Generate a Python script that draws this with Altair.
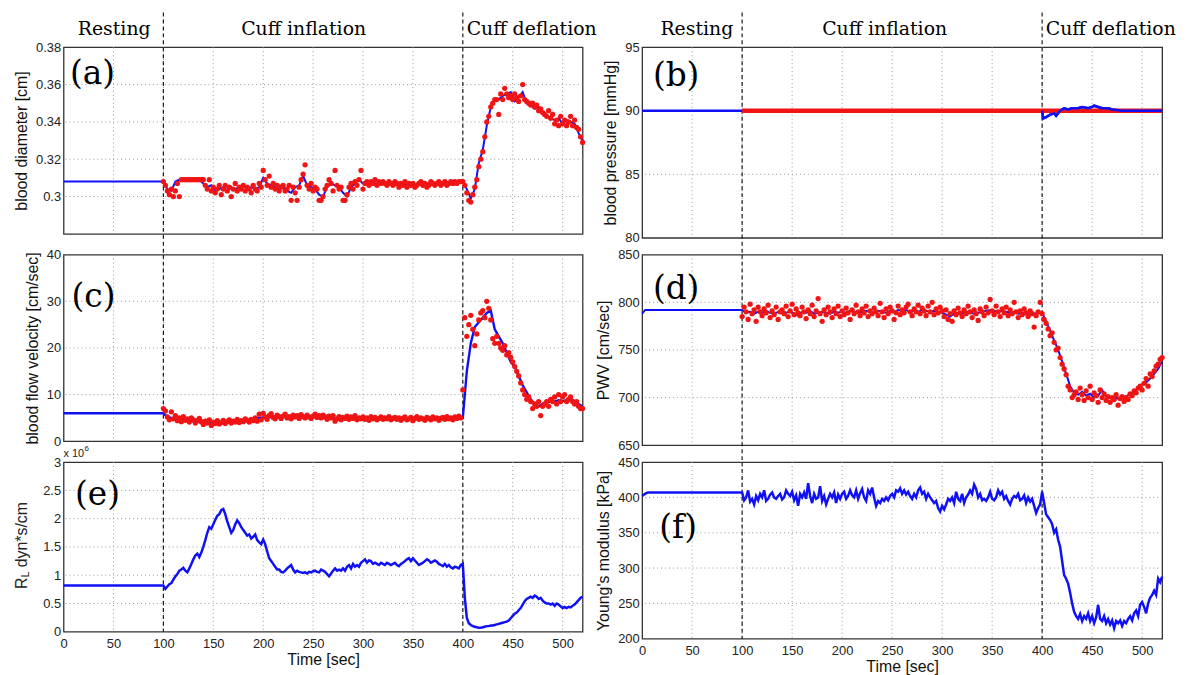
import altair as alt
import pandas as pd

# ---------------- data ----------------
PHASE_T = [100, 400]
PHASES = ["Resting", "Cuff inflation", "Cuff deflation"]
XTICKS = [0, 50, 100, 150, 200, 250, 300, 350, 400, 450, 500]

T_RED = list(range(100, 521, 2))
T_B4 = [0] + list(range(100, 521, 4))
T_D = [0, 3] + list(range(100, 521, 4))
T_E = [0] + list(range(100, 521, 2))
T_F = [0, 2, 4, 6] + list(range(100, 521, 2))
T_B = [0, 100, 400, 401, 404, 408, 412, 414, 418, 422, 426, 430, 436, 440, 446,
       450, 452, 456, 460, 466, 470, 480, 490, 500, 510, 520]
T_RED_B = [100, 520]

# (a) blood diameter [cm]
BLUE_A = [0.308,
          0.308, 0.304, 0.303, 0.308, 0.309, 0.309, 0.309, 0.309, 0.309, 0.309,
          0.307, 0.305, 0.306, 0.303, 0.304, 0.305, 0.303, 0.305, 0.304, 0.305,
          0.306, 0.304, 0.305, 0.304, 0.305, 0.310, 0.307, 0.306, 0.305, 0.304,
          0.305, 0.303, 0.302, 0.305, 0.306, 0.311, 0.306, 0.305, 0.304, 0.301,
          0.300, 0.305, 0.307, 0.306, 0.305, 0.302, 0.300, 0.305, 0.307, 0.309,
          0.307, 0.307, 0.308, 0.307, 0.307, 0.307, 0.307, 0.307, 0.306, 0.307,
          0.307, 0.306, 0.306, 0.306, 0.307, 0.306, 0.307, 0.307, 0.307, 0.307,
          0.307, 0.307, 0.308, 0.308, 0.308, 0.308,
          0.304, 0.299, 0.304, 0.318, 0.325, 0.338, 0.348, 0.352, 0.352, 0.354,
          0.355, 0.356, 0.351, 0.353, 0.356, 0.350, 0.349, 0.347, 0.348, 0.345,
          0.343, 0.342, 0.341, 0.342, 0.339, 0.341, 0.340, 0.339, 0.334, 0.330]
RED_A = [0.308, 0.306, 0.303, 0.301, 0.304, 0.300, 0.303, 0.307, 0.300, 0.309,
         0.309, 0.309, 0.309, 0.309, 0.309, 0.309, 0.309, 0.309, 0.309, 0.309,
         0.309, 0.306, 0.304, 0.309, 0.303, 0.305, 0.302, 0.304, 0.306, 0.301,
         0.304, 0.306, 0.303, 0.305, 0.300, 0.304, 0.307, 0.303, 0.305, 0.304,
         0.306, 0.303, 0.305, 0.304, 0.302, 0.306, 0.304, 0.303, 0.307, 0.305,
         0.314, 0.309, 0.306, 0.311, 0.305, 0.307, 0.304, 0.306, 0.303, 0.305,
         0.306, 0.303, 0.304, 0.306, 0.298, 0.305, 0.302, 0.298, 0.305, 0.309,
         0.312, 0.317, 0.306, 0.304, 0.307, 0.303, 0.305, 0.304, 0.298, 0.298,
         0.300, 0.304, 0.306, 0.309, 0.307, 0.303, 0.314, 0.306, 0.304, 0.305,
         0.298, 0.298, 0.301, 0.305, 0.307, 0.304, 0.308, 0.306, 0.309, 0.314,
         0.304, 0.307, 0.308, 0.306, 0.308, 0.307, 0.309, 0.306, 0.308, 0.307,
         0.308, 0.307, 0.306, 0.308, 0.307, 0.306, 0.308, 0.307, 0.305, 0.307,
         0.306, 0.308, 0.305, 0.307, 0.306, 0.307, 0.305, 0.306, 0.307, 0.308,
         0.306, 0.307, 0.305, 0.306, 0.308, 0.307, 0.306, 0.307, 0.308, 0.306,
         0.307, 0.308, 0.306, 0.307, 0.308, 0.307, 0.308, 0.307, 0.308, 0.308,
         0.308, 0.306, 0.302, 0.298, 0.297, 0.301, 0.305, 0.309, 0.316, 0.320,
         0.324, 0.332, 0.340, 0.343, 0.348, 0.350, 0.352, 0.352, 0.344, 0.355,
         0.352, 0.358, 0.355, 0.353, 0.354, 0.352, 0.355, 0.353, 0.351, 0.354,
         0.360, 0.352, 0.351, 0.350, 0.349, 0.350, 0.348, 0.349, 0.346, 0.347,
         0.345, 0.344, 0.343, 0.346, 0.342, 0.344, 0.339, 0.341, 0.338, 0.343,
         0.339, 0.341, 0.338, 0.340, 0.343, 0.338, 0.341, 0.337, 0.336, 0.332,
         0.329]

# (b) blood pressure [mmHg]
BLUE_B = [90.0, 90.0, 90.0, 89.4, 89.5, 89.7, 89.8, 89.6, 90.0, 90.2, 90.1, 90.2, 90.2,
          90.3, 90.2, 90.3, 90.4, 90.3, 90.2, 90.2, 90.1, 90.0, 90.0, 90.0, 90.0, 90.0]
RED_B = [90.0, 90.0]

# (c) blood flow velocity [cm/sec]
BLUE_C = [6.0,
          6.0, 5.2, 5.0, 4.8, 4.6, 4.5, 4.4, 4.3, 4.2, 4.1,
          4.0, 4.0, 4.0, 4.0, 4.1, 4.1, 4.2, 4.3, 4.3, 4.4,
          4.5, 4.5, 4.6, 4.8, 5.0, 5.1, 5.2, 5.2, 5.3, 5.3,
          5.3, 5.3, 5.3, 5.2, 5.2, 5.2, 5.3, 5.2, 5.2, 5.2,
          5.1, 5.0, 4.9, 4.8, 4.8, 4.9, 4.9, 4.9, 4.9, 4.9,
          4.9, 4.8, 4.8, 4.8, 4.8, 4.8, 4.8, 4.8, 4.8, 4.8,
          4.8, 4.8, 4.8, 4.8, 4.8, 4.8, 4.8, 4.8, 4.8, 4.8,
          4.9, 4.9, 4.9, 4.9, 5.0, 5.0,
          15.0, 21.0, 24.5, 25.5, 26.5, 27.5, 28.0, 24.0, 22.5, 21.0,
          19.0, 17.0, 16.0, 14.0, 12.0, 10.5, 9.0, 8.0, 7.5, 8.0,
          8.3, 8.5, 8.5, 8.8, 8.6, 8.8, 9.0, 8.6, 8.0, 7.5]
RED_C = [7.0, 6.5, 5.2, 4.6, 6.3, 4.8, 5.5, 4.4, 5.0, 4.2,
         5.3, 4.5, 4.8, 4.1, 5.0, 4.6, 3.9, 4.4, 4.9, 4.2,
         3.6, 4.3, 3.9, 4.6, 3.4, 4.1, 3.8, 4.4, 3.7, 4.0,
         4.5, 3.8, 4.2, 4.6, 3.9, 4.3, 4.1, 4.7, 4.0, 4.4,
         4.2, 4.8, 4.5, 4.1, 4.7, 4.4, 5.0, 4.3, 5.8, 4.6,
         6.0, 5.2, 4.7, 5.5, 5.9, 5.1, 4.8, 5.6, 5.3, 4.9,
         5.4, 5.8, 5.0, 5.3, 4.8, 5.6, 5.2, 5.5, 4.9, 5.7,
         5.3, 5.0, 5.6, 5.2, 4.9, 5.4, 5.8, 5.1, 5.5, 5.0,
         5.6, 5.2, 4.7, 5.4, 5.0, 5.5, 4.3, 4.8, 5.3, 4.6,
         5.1, 4.9, 5.4, 4.7, 5.2, 4.9, 5.5, 4.6, 5.0, 4.8,
         5.2, 4.7, 5.0, 4.5, 5.3, 4.8, 5.1, 4.6, 4.9, 5.2,
         4.7, 5.0, 4.8, 5.3, 4.6, 4.9, 5.1, 4.7, 5.0, 4.5,
         4.9, 5.2, 4.6, 4.8, 5.1, 4.4, 4.9, 5.3, 4.7, 5.0,
         4.8, 4.5, 5.1, 4.9, 4.6, 5.2, 4.8, 5.0, 4.5, 4.9,
         5.1, 4.7, 5.3, 4.8, 5.0, 4.6, 5.2, 4.9, 5.4, 5.0,
         11.0, 26.5, 22.5, 25.0, 27.0, 24.0, 20.5, 23.0, 26.0, 27.5,
         28.0, 26.5, 30.0, 28.5, 26.0, 22.0, 21.0, 22.5, 21.0, 20.0,
         19.5, 20.5, 18.5, 19.0, 18.0, 17.0, 16.0, 15.0, 14.0, 12.5,
         11.0, 10.0, 9.0, 9.5, 8.5, 7.0, 8.0, 7.5, 8.5, 5.5,
         7.5, 8.0, 8.5, 7.5, 9.0, 8.5, 9.5, 8.0, 10.0, 8.5,
         9.5, 10.0, 8.5, 9.0, 9.5, 8.5, 8.0, 8.5, 7.5, 7.0,
         7.0]

# (d) PWV [cm/sec]
BLUE_D = [788, 792,
          792, 789, 790, 788, 790, 789, 791, 789, 788, 790,
          791, 789, 790, 788, 786, 790, 789, 791, 788, 789,
          790, 789, 788, 790, 789, 790, 789, 791, 790, 789,
          790, 791, 790, 789, 791, 790, 789, 791, 790, 792,
          791, 792, 790, 791, 790, 792, 791, 790, 791, 790,
          789, 787, 785, 788, 789, 788, 790, 789, 788, 789,
          790, 791, 792, 791, 790, 791, 790, 789, 790, 788,
          789, 788, 787, 788, 789, 789,
          780, 770, 760, 750, 738, 725, 712, 705, 703, 706,
          702, 704, 700, 702, 708, 701, 700, 700, 699, 700,
          701, 704, 706, 710, 714, 716, 720, 725, 730, 738]
RED_D = [785, 795, 790, 782, 798, 788, 792, 780, 795, 790,
         786, 793, 789, 797, 784, 791, 787, 795, 782, 790,
         792, 788, 796, 785, 791, 798, 787, 793, 789, 786,
         795, 790, 783, 792, 788, 797, 785, 791, 804, 788,
         780, 792, 787, 795, 790, 784, 793, 788, 796, 785,
         791, 787, 794, 789, 782, 792, 788, 797, 790, 786,
         793, 789, 796, 785, 791, 788, 794, 790, 786, 799,
         790, 784, 793, 788, 795, 791, 782, 789, 796, 787,
         792, 789, 795, 798, 790, 786, 793, 790, 797, 788,
         794, 791, 786, 796, 790, 800, 787, 793, 789, 795,
         791, 785, 792, 782, 788, 780, 791, 787, 794, 789,
         785, 792, 788, 796, 790, 784, 792, 788, 781, 793,
         790, 786, 795, 789, 803, 791, 787, 796, 790, 785,
         793, 789, 795, 786, 792, 788, 800, 790, 784, 791,
         787, 793, 789, 785, 791, 788, 774, 786, 790, 800,
         788, 782, 778, 772, 765, 768, 758, 750, 752, 742,
         735, 730, 724, 712, 708, 700, 703, 706, 698, 710,
         703, 697, 707, 700, 712, 698, 705, 702, 695, 708,
         700, 704, 697, 701, 695, 700, 698, 703, 692, 699,
         701, 696, 700, 698, 704, 702, 707, 705, 710, 712,
         708, 715, 720, 712, 725, 722, 728, 733, 735, 740,
         742]

# (e) R_L [x 10^6 dyn*s/cm]
BLUE_E = [0.82,
          0.82, 0.76, 0.80, 0.84, 0.86, 0.92, 0.98, 1.02, 1.08, 1.10,
          1.13, 1.08, 1.05, 1.12, 1.20, 1.28, 1.35, 1.38, 1.32, 1.40,
          1.50, 1.62, 1.75, 1.85, 1.82, 1.90, 1.98, 2.05, 2.08, 2.15,
          2.17, 2.08, 1.95, 1.85, 1.75, 1.80, 1.90, 1.97, 1.92, 1.85,
          1.80, 1.75, 1.70, 1.72, 1.65, 1.68, 1.72, 1.62, 1.58, 1.55,
          1.63, 1.55, 1.42, 1.30, 1.25, 1.20, 1.15, 1.10, 1.10, 1.06,
          1.05, 1.08, 1.12, 1.15, 1.18, 1.10, 1.05, 1.08, 1.06, 1.05,
          1.04, 1.05, 1.03, 1.06, 1.05, 1.07, 1.08, 1.06, 1.05, 1.10,
          1.08, 1.06, 1.02, 0.98, 1.03, 1.08, 1.12, 1.08, 1.10, 1.08,
          1.12, 1.08, 1.15, 1.18, 1.12, 1.20, 1.15, 1.18, 1.15, 1.22,
          1.25, 1.28, 1.22, 1.26, 1.25, 1.20, 1.22, 1.20, 1.18, 1.22,
          1.20, 1.18, 1.22, 1.20, 1.18, 1.20, 1.22, 1.18, 1.16, 1.20,
          1.22, 1.25, 1.28, 1.30, 1.25, 1.30, 1.26, 1.22, 1.18, 1.20,
          1.22, 1.25, 1.28, 1.26, 1.22, 1.24, 1.26, 1.24, 1.20, 1.18,
          1.16, 1.20, 1.15, 1.18, 1.14, 1.12, 1.15, 1.14, 1.12, 1.18,
          1.20, 0.60, 0.25, 0.15, 0.12, 0.10, 0.09, 0.08, 0.07, 0.07,
          0.08, 0.09, 0.10, 0.10, 0.11, 0.11, 0.12, 0.13, 0.14, 0.15,
          0.16, 0.17, 0.18, 0.20, 0.24, 0.28, 0.32, 0.34, 0.38, 0.42,
          0.48, 0.54, 0.58, 0.60, 0.62, 0.60, 0.64, 0.62, 0.58, 0.60,
          0.55, 0.52, 0.50, 0.50, 0.48, 0.50, 0.46, 0.50, 0.48, 0.45,
          0.42, 0.44, 0.42, 0.44, 0.43, 0.46, 0.48, 0.52, 0.56, 0.60,
          0.62]

# (f) Young's modulus [kPa]
BLUE_F = [402, 404, 406, 407,
          407, 396, 400, 410, 394, 398, 390, 402, 396, 405,
          400, 410, 395, 398, 404, 407, 400, 398, 402, 405,
          397, 400, 410, 405, 402, 408, 396, 403, 388, 405,
          400, 407, 398, 420, 402, 392, 405, 398, 400, 416,
          395, 402, 390, 398, 405, 400, 407, 392, 404, 398,
          405, 408, 398, 402, 410, 403, 400, 410, 398, 406,
          412, 400, 395, 410, 405, 414, 400, 388, 395, 392,
          398, 395, 400, 396, 402, 405, 400, 410, 408, 413,
          405, 410, 404, 408, 402, 398, 405, 400, 410, 414,
          405, 408, 398, 405, 400, 396, 392, 395, 385, 380,
          388, 383, 390, 398, 395, 400, 392, 408, 398, 395,
          405, 392, 400, 404, 410, 405, 418, 412, 400, 405,
          396, 398, 395, 400, 408, 398, 396, 400, 410, 404,
          408, 398, 402, 395, 390, 398, 402, 400, 405, 396,
          398, 403, 392, 400, 394, 398, 388, 378, 385, 390,
          408, 392, 376, 372, 368, 362, 350, 355, 340, 330,
          310, 290, 285, 278, 265, 250, 238, 232, 228, 235,
          225, 232, 228, 236, 225, 232, 222, 230, 248, 228,
          225, 232, 222, 228, 220, 226, 215, 225, 222, 226,
          218, 225, 222, 228, 232, 226, 236, 240, 232, 248,
          252, 245, 236, 250, 258, 262, 268, 262, 285, 280,
          288]


def frame(name, t, v):
    if len(t) != len(v):
        raise ValueError(f"{name}: {len(t)} times vs {len(v)} values")
    return pd.DataFrame({"t": t, "v": v})


DF = {
    "blue_a": frame("blue_a", T_B4, BLUE_A), "red_a": frame("red_a", T_RED, RED_A),
    "blue_b": frame("blue_b", T_B, BLUE_B), "red_b": frame("red_b", T_RED_B, RED_B),
    "blue_c": frame("blue_c", T_B4, BLUE_C), "red_c": frame("red_c", T_RED, RED_C),
    "blue_d": frame("blue_d", T_D, BLUE_D), "red_d": frame("red_d", T_RED, RED_D),
    "blue_e": frame("blue_e", T_E, BLUE_E),
    "blue_f": frame("blue_f", T_F, BLUE_F),
}

# ---------------- styling ----------------
BLUE = "#1010f5"
RED = "#f01414"
GRID = "#9a9a9a"
SERIF = "DejaVu Serif"
SANS = "Liberation Sans"
XS = alt.Scale(domain=[0, 520], nice=False, zero=False)


def panel(blue, red, red_kind, ydom, yvals, yfmt, ytitle, w, h, lab, lab_t, lab_v,
          rule_y, rule_y2, bottom=False, header_t=None, blue_w=2.0, extra=()):
    ys = alt.Scale(domain=ydom, nice=False, zero=False)
    xaxis = alt.Axis(values=XTICKS, labels=bottom, title="Time [sec]" if bottom else None,
                     grid=False, ticks=False, domain=False, labelFlush=False,
                     labelOverlap=False, labelPadding=6, titlePadding=1)
    yaxis = alt.Axis(values=yvals, format=yfmt, title=ytitle, grid=False, ticks=False,
                     domain=False, labelPadding=3, titlePadding=6, labelOverlap=False)
    # every layer carries the very same axis definitions
    X = lambda: alt.X("t:Q", scale=XS, axis=xaxis)
    Y = lambda: alt.Y("v:Q", scale=ys, axis=yaxis)

    xg = [t for t in XTICKS if 0 < t < 520]
    yg = [v for v in yvals if ydom[0] < v < ydom[1]]
    layers = [
        alt.Chart(pd.DataFrame({"t": xg})).mark_rule(
            color=GRID, strokeDash=[1, 3], strokeWidth=1
        ).encode(x=X()),
        alt.Chart(pd.DataFrame({"v": yg})).mark_rule(
            color=GRID, strokeDash=[1, 3], strokeWidth=1
        ).encode(y=Y()),
        alt.Chart(pd.DataFrame({"t": PHASE_T})).mark_rule(
            color="#1a1a1a", strokeDash=[4, 3], strokeWidth=1.2
        ).encode(x=X(), y=alt.value(rule_y), y2=alt.value(rule_y2)),
        alt.Chart(blue).mark_line(color=BLUE, strokeWidth=blue_w).encode(x=X(), y=Y()),
    ]
    if red is not None:
        if red_kind == "points":
            layers.append(
                alt.Chart(red).mark_circle(color=RED, size=28, opacity=1).encode(
                    x=X(), y=Y())
            )
        else:
            layers.append(
                alt.Chart(red).mark_line(color=RED, strokeWidth=4.5).encode(x=X(), y=Y())
            )
            # blue drawn again above the red line where it departs from it
            layers.append(
                alt.Chart(blue[blue["t"] >= 400]).mark_line(
                    color=BLUE, strokeWidth=blue_w).encode(x=X(), y=Y())
            )
    layers.append(
        alt.Chart(pd.DataFrame({"t": [lab_t], "v": [lab_v], "s": [lab]})).mark_text(
            font=SERIF, fontSize=33, color="black", align="center", baseline="middle"
        ).encode(x=X(), y=Y(), text="s:N")
    )
    if header_t is not None:
        layers.append(
            alt.Chart(pd.DataFrame({"t": header_t, "s": PHASES})).mark_text(
                font=SERIF, fontSize=19, color="black", align="center", baseline="middle"
            ).encode(x=X(), y=alt.value(-18), text="s:N")
        )
    layers.extend(extra)
    return alt.layer(*layers).properties(width=w, height=h)


def note(text, x, y, size, angle=0, align="left"):
    return alt.Chart(pd.DataFrame({"s": [text]})).mark_text(
        font=SANS, fontSize=size, color="#222222", align=align, baseline="middle",
        angle=angle
    ).encode(x=alt.value(x), y=alt.value(y), text="s:N")


LW, RW = 523, 524
HA, HC, HE = 188, 188, 171
HB, HD, HF = 192, 192, 178
ROWGAP = 17

pa = panel(DF["blue_a"], DF["red_a"], "points", [0.28, 0.38],
           [0.30, 0.32, 0.34, 0.36, 0.38], ".2~f", "blood diameter [cm]",
           LW, HA, "(a)", 29, 0.3656, -35, HB + ROWGAP, header_t=[50.7, 240.5, 469.0])
pc = panel(DF["blue_c"], DF["red_c"], "points", [0, 40], [0, 10, 20, 30, 40], "d",
           "blood flow velocity [cm/sec]", LW, HC, "(c)", 30, 31.0, 0, HD + ROWGAP,
           blue_w=2.4)
e_extra = [
    note("x 10", 0, -8, 11),
    note("6", 21, -13, 8),
    note("R", -42, 128, 16, angle=270),
    note("L", -37.5, 116.4, 11, angle=270),
    note("dyn*s/cm", -42, 106.0, 16, angle=270),
]
pe = panel(DF["blue_e"], None, None, [0, 3], [0, 0.5, 1, 1.5, 2, 2.5, 3], "~g",
           None, LW, HE, "(e)", 34, 2.42, 0, HE, bottom=True, blue_w=2.5,
           extra=e_extra)

pb = panel(DF["blue_b"], DF["red_b"], "line", [80, 95], [80, 85, 90, 95], "d",
           "blood pressure [mmHg]", RW, HB, "(b)", 34, 92.73, -35, HB + ROWGAP,
           header_t=[54.7, 242.5, 468.7], blue_w=2.5)
pd_ = panel(DF["blue_d"], DF["red_d"], "points", [650, 850],
            [650, 700, 750, 800, 850], "d", "PWV [cm/sec]", RW, HD, "(d)", 34, 813.5,
            0, HD + ROWGAP)
pf = panel(DF["blue_f"], None, None, [200, 450], [200, 250, 300, 350, 400, 450], "d",
           "Young's modulus [kPa]", RW, HF, "(f)", 36, 357, 0, HF, bottom=True,
           blue_w=2.5)

chart = alt.concat(
    pa, pb, pc, pd_, pe, pf, columns=2,
    spacing={"row": ROWGAP, "column": 60}, bounds="flush"
).properties(
    padding={"left": 5, "top": 0, "right": 2, "bottom": 0}
).configure_view(
    stroke="#333333", strokeWidth=1.3
).configure_axis(
    labelFont=SANS, titleFont=SANS, labelFontSize=13, titleFontSize=16,
    labelColor="#222222", titleColor="#111111", titleFontWeight="normal",
    labelOverlap=False, grid=False
)

chart.save("out.html", embed_options={"renderer": "svg", "actions": False})
